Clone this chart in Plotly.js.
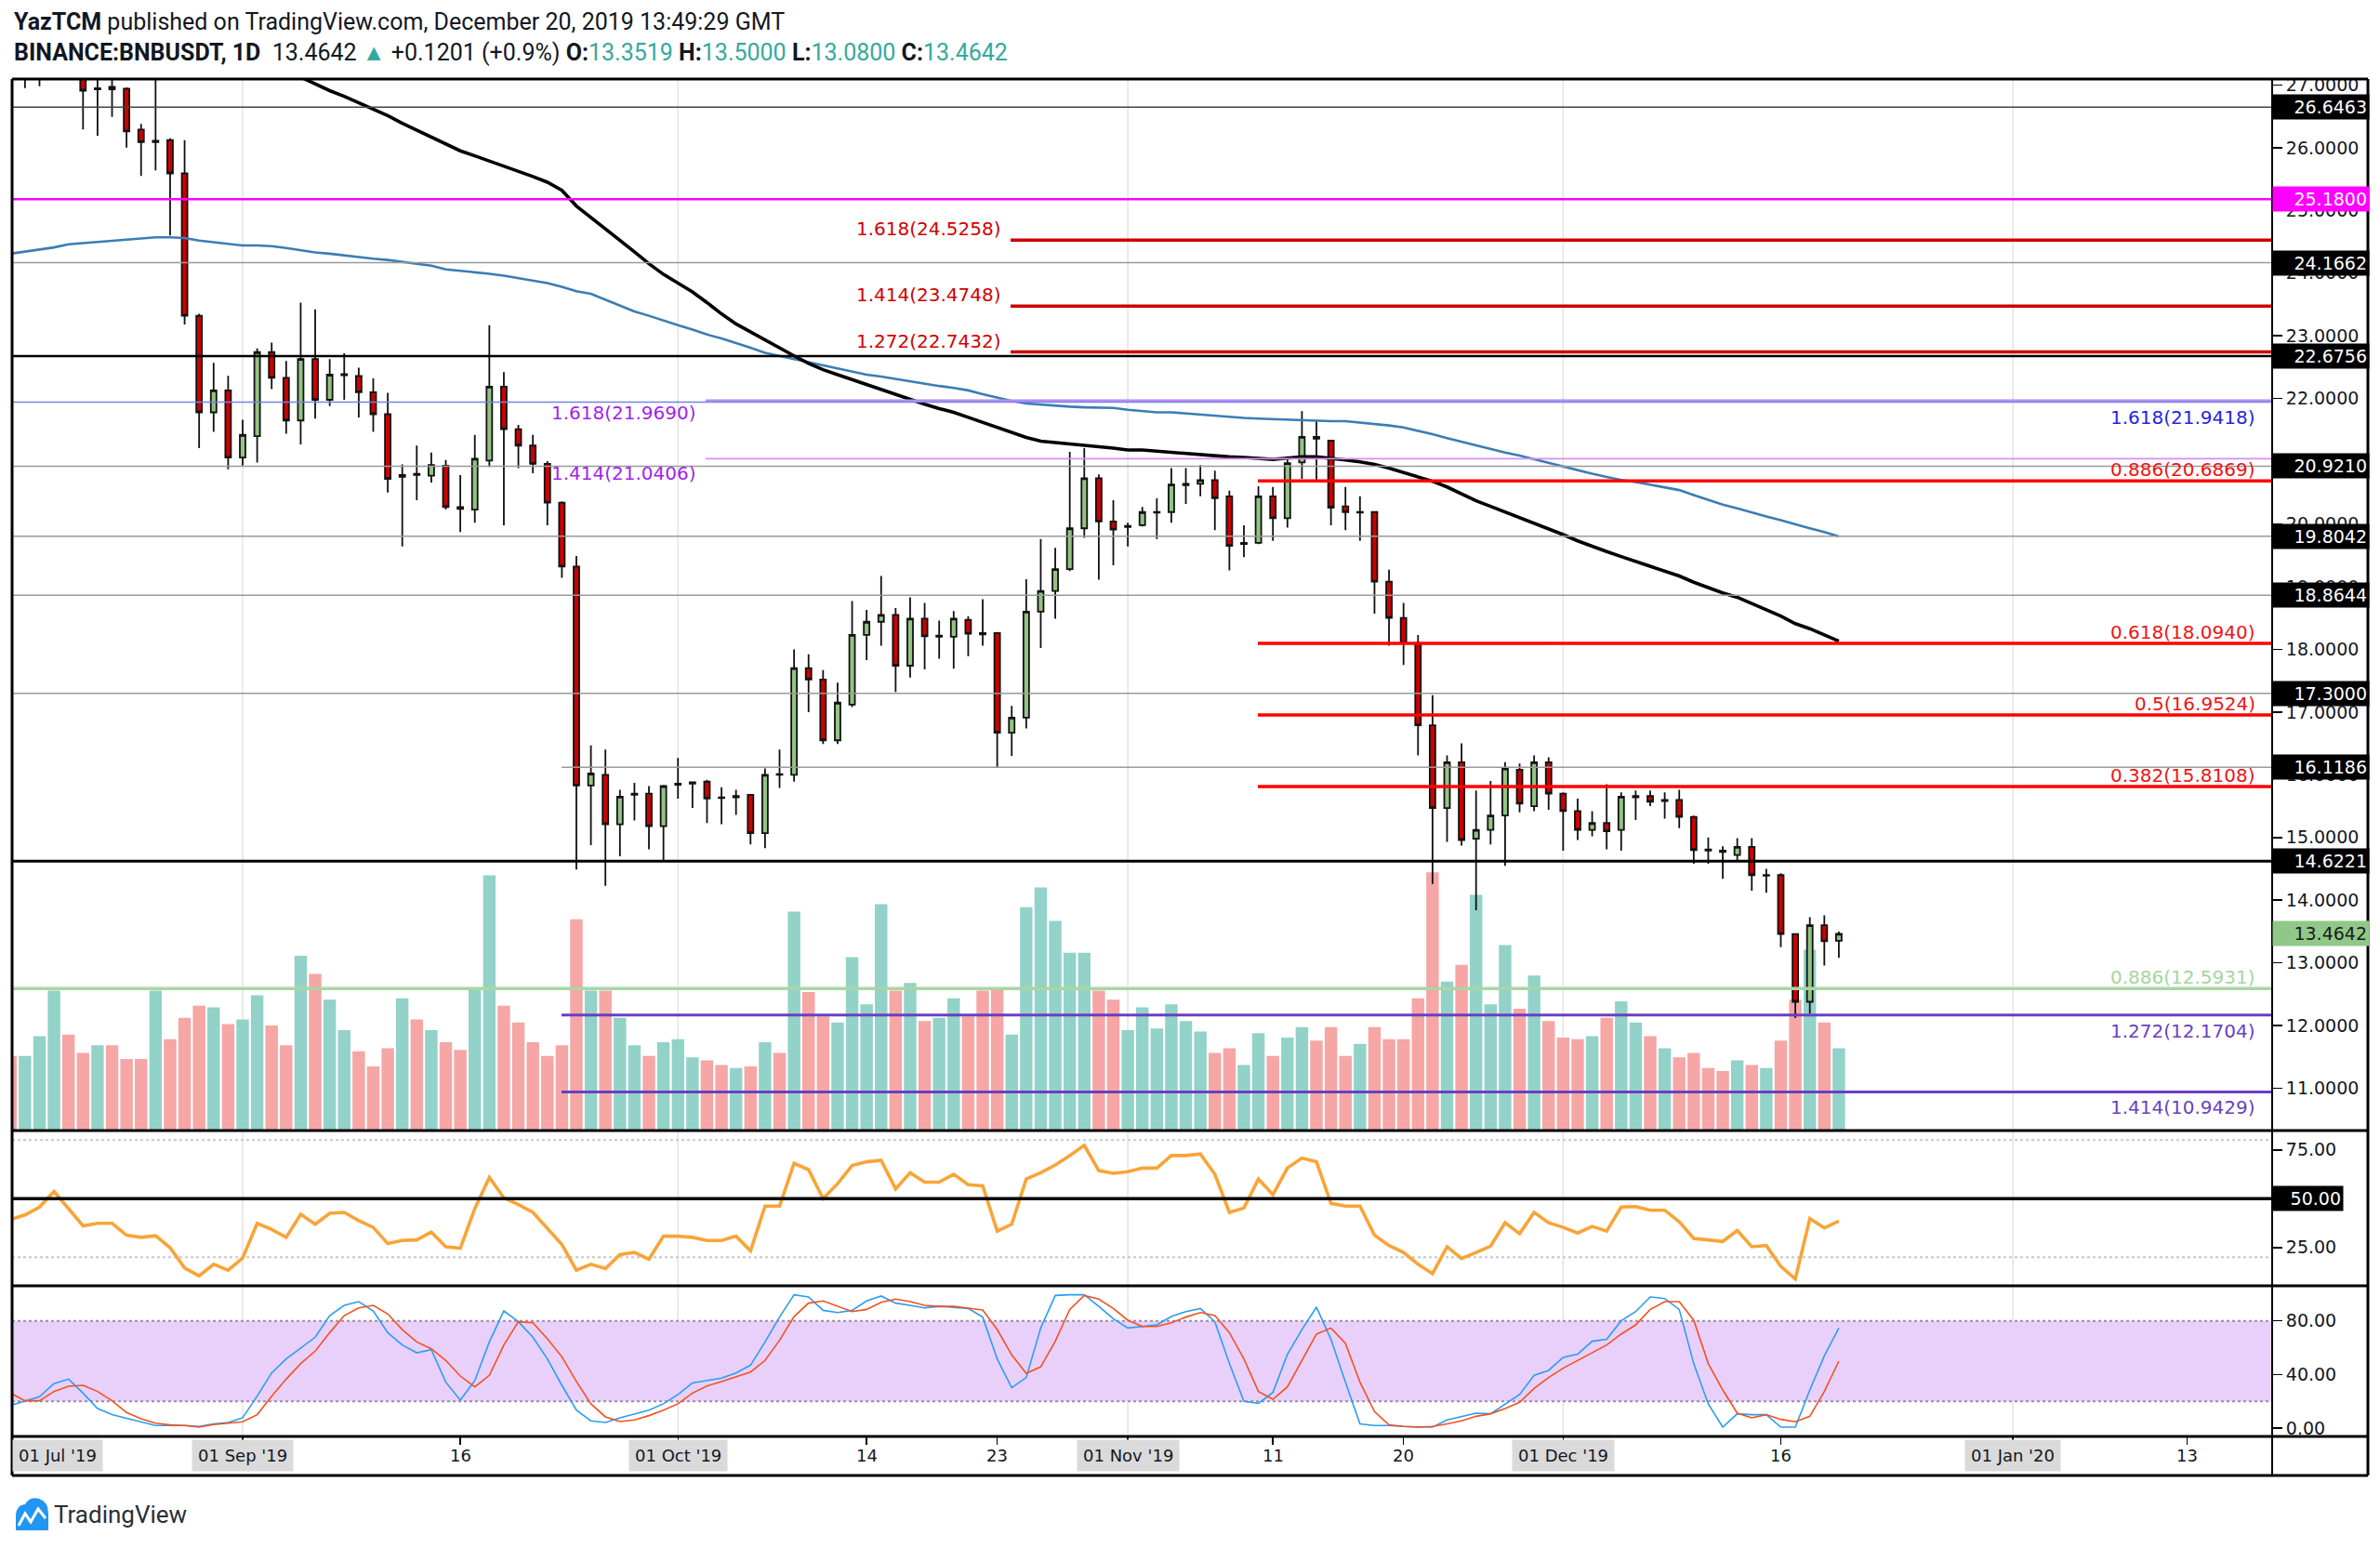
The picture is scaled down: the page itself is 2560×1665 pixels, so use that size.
<!DOCTYPE html>
<html><head><meta charset="utf-8">
<script src="https://cdn.plot.ly/plotly-3.0.1.min.js"></script>
<style>html,body{margin:0;padding:0;background:#fff;}#chart{width:2560px;height:1665px;}</style>
</head><body><div id="chart"></div>
<script>
// ---------------- DATA ----------------
const dates = [
'2019-08-16','2019-08-17','2019-08-18','2019-08-19','2019-08-20','2019-08-21','2019-08-22','2019-08-23','2019-08-24','2019-08-25','2019-08-26','2019-08-27','2019-08-28','2019-08-29','2019-08-30','2019-08-31',
'2019-09-01','2019-09-02','2019-09-03','2019-09-04','2019-09-05','2019-09-06','2019-09-07','2019-09-08','2019-09-09','2019-09-10','2019-09-11','2019-09-12','2019-09-13','2019-09-14','2019-09-15','2019-09-16','2019-09-17','2019-09-18','2019-09-19','2019-09-20','2019-09-21','2019-09-22','2019-09-23','2019-09-24','2019-09-25','2019-09-26','2019-09-27','2019-09-28','2019-09-29','2019-09-30',
'2019-10-01','2019-10-02','2019-10-03','2019-10-04','2019-10-05','2019-10-06','2019-10-07','2019-10-08','2019-10-09','2019-10-10','2019-10-11','2019-10-12','2019-10-13','2019-10-14','2019-10-15','2019-10-16','2019-10-17','2019-10-18','2019-10-19','2019-10-20','2019-10-21','2019-10-22','2019-10-23','2019-10-24','2019-10-25','2019-10-26','2019-10-27','2019-10-28','2019-10-29','2019-10-30','2019-10-31',
'2019-11-01','2019-11-02','2019-11-03','2019-11-04','2019-11-05','2019-11-06','2019-11-07','2019-11-08','2019-11-09','2019-11-10','2019-11-11','2019-11-12','2019-11-13','2019-11-14','2019-11-15','2019-11-16','2019-11-17','2019-11-18','2019-11-19','2019-11-20','2019-11-21','2019-11-22','2019-11-23','2019-11-24','2019-11-25','2019-11-26','2019-11-27','2019-11-28','2019-11-29','2019-11-30',
'2019-12-01','2019-12-02','2019-12-03','2019-12-04','2019-12-05','2019-12-06','2019-12-07','2019-12-08','2019-12-09','2019-12-10','2019-12-11','2019-12-12','2019-12-13','2019-12-14','2019-12-15','2019-12-16','2019-12-17','2019-12-18','2019-12-19','2019-12-20'];

const open = [
27.6,27.5,27.7,28.8,30.2,29.1,26.93,26.97,26.94,26.29,26.09,26.12,25.59,23.32,21.78,22.13,
21.06,21.40,22.74,22.33,21.65,22.63,21.98,22.37,22.36,22.10,21.75,20.75,20.80,20.77,20.93,20.27,20.23,21.01,22.19,21.51,21.25,20.96,20.34,19.32,15.83,16.00,15.21,15.68,15.70,15.18,
15.84,15.86,15.89,15.64,15.64,15.68,15.07,16.01,16.00,17.70,17.52,16.55,17.12,18.23,18.44,18.55,17.74,18.49,18.20,18.20,18.47,18.26,18.26,16.67,16.91,18.60,18.93,19.28,19.93,20.73,20.04,
19.95,19.98,20.18,20.19,20.62,20.64,20.70,20.44,19.68,19.70,20.44,20.09,20.98,21.39,21.33,20.28,20.18,20.19,19.08,18.50,18.10,16.79,15.47,16.20,14.98,15.12,15.35,16.08,15.50,16.20,
15.70,15.42,15.12,15.23,15.12,15.64,15.66,15.58,15.60,15.33,14.81,14.79,14.72,14.85,14.39,14.40,13.46,12.38,13.60,13.3519];
const high = [
28.3,28.0,29.0,30.5,30.6,29.3,27.3,27.2,26.96,26.38,27.3,26.15,26.12,23.35,22.57,22.36,
21.66,22.80,22.89,22.60,23.53,23.42,22.63,22.72,22.49,22.32,22.09,20.95,21.25,21.14,21.02,20.78,21.42,23.17,22.42,21.58,21.42,21.00,20.36,19.49,16.47,16.40,15.76,15.87,15.82,15.84,
16.27,15.89,15.92,15.80,15.76,15.69,16.10,16.40,18.00,17.92,17.67,17.47,18.77,18.63,19.17,18.66,18.83,18.74,18.46,18.61,18.53,18.80,18.27,17.10,19.12,19.76,19.62,21.15,21.21,20.79,20.38,
20.02,20.27,20.41,20.89,20.89,20.94,20.85,20.53,19.98,20.60,20.59,21.08,21.80,21.65,21.33,20.59,20.44,20.20,19.27,18.74,18.23,17.27,16.31,16.50,15.75,15.90,16.20,16.18,16.31,16.28,
15.72,15.62,15.42,15.85,15.72,15.75,15.75,15.72,15.76,15.35,15.00,14.86,14.99,14.99,14.50,14.43,13.47,13.73,13.76,13.50];
const low = [
27.3,26.95,26.98,28.6,28.5,26.29,26.19,26.49,26.00,25.55,25.64,24.60,23.18,21.21,21.47,20.87,
20.93,20.98,22.15,21.44,21.27,21.68,21.88,21.98,21.70,21.47,20.50,19.64,20.38,20.66,20.23,19.87,20.02,20.91,19.98,20.89,20.81,19.98,19.14,14.49,14.88,14.23,14.70,15.27,14.81,14.61,
15.62,15.47,15.23,15.21,15.36,14.89,14.83,15.79,15.89,17.00,16.49,16.49,17.08,17.83,18.06,17.32,17.55,17.68,17.85,17.69,17.89,18.06,16.12,16.30,16.74,18.02,18.49,19.25,19.78,19.11,19.34,
19.64,19.96,19.76,20.02,20.32,20.44,19.90,19.26,19.47,19.68,19.73,19.94,20.72,20.70,19.98,19.90,19.73,18.57,18.06,17.75,16.31,14.26,14.93,14.87,13.84,14.89,14.55,15.40,15.42,15.44,
14.79,14.96,15.02,14.81,14.79,15.28,15.50,15.30,15.15,14.58,14.58,14.34,14.64,14.15,14.12,13.25,12.12,12.19,12.96,13.08];
const close = [
27.5,27.7,28.8,30.2,29.1,26.91,26.95,26.93,26.26,26.09,26.11,25.59,23.32,21.78,22.13,21.06,
21.42,22.74,22.33,21.65,22.63,21.98,22.38,22.39,22.10,21.75,20.72,20.78,20.78,20.94,20.27,20.24,21.04,22.19,21.51,21.25,20.96,20.34,19.32,15.83,16.02,15.21,15.65,15.70,15.18,15.82,
15.86,15.88,15.62,15.63,15.66,15.07,16.00,16.00,17.70,17.52,16.55,17.15,18.23,18.44,18.55,17.74,18.49,18.21,18.22,18.49,18.25,18.24,16.67,16.91,18.60,18.93,19.28,19.93,20.73,20.04,19.91,
19.97,20.19,20.19,20.63,20.64,20.70,20.41,19.65,19.70,20.44,20.09,20.97,21.39,21.36,20.26,20.19,20.19,19.08,18.50,18.10,16.79,15.47,16.20,14.96,15.12,15.35,16.10,15.54,16.20,15.70,
15.42,15.12,15.23,15.10,15.65,15.66,15.57,15.60,15.33,14.80,14.79,14.77,14.85,14.40,14.40,13.46,12.38,13.60,13.3441,13.4642];
const volumeK = [
490,490,620,920,630,510,560,560,470,470,920,600,740,820,810,700,
730,890,690,560,1150,1030,860,660,520,420,540,870,730,660,580,530,940,1680,820,710,580,490,560,1390,920,920,740,560,490,580,
600,480,460,430,410,420,580,510,1440,910,750,710,1140,830,1490,920,970,720,740,870,750,920,940,630,1470,1600,1380,1170,1170,920,860,
660,810,670,830,720,650,510,540,430,640,490,610,680,590,680,490,570,680,600,600,870,1700,980,1090,1550,830,1220,800,1020,720,
610,600,620,740,850,710,620,540,480,510,410,390,460,430,410,590,860,1190,710,540];
const maBlue = [
24.31,24.34,24.37,24.41,24.46,24.48,24.49,24.51,24.53,24.55,24.57,24.57,24.56,24.52,24.49,24.46,24.44,24.44,24.43,24.40,
24.36,24.33,24.31,24.28,24.26,24.23,24.21,24.18,24.16,24.12,24.06,24.04,24.01,23.99,23.96,23.92,23.88,23.84,23.78,23.71,
23.67,23.58,23.49,23.39,23.32,23.24,23.17,23.10,23.02,22.96,22.89,22.81,22.73,22.68,22.63,22.58,22.52,22.47,22.42,22.38,
22.35,22.31,22.28,22.24,22.20,22.17,22.13,22.07,22.01,21.96,21.92,21.90,21.88,21.87,21.86,21.85,21.85,21.82,21.80,21.78,
21.78,21.76,21.74,21.73,21.71,21.69,21.68,21.67,21.67,21.66,21.65,21.64,21.64,21.62,21.60,21.57,21.54,21.49,21.43,21.37,
21.31,21.25,21.20,21.14,21.09,21.03,20.97,20.91,20.86,20.80,20.75,20.70,20.67,20.63,20.59,20.54,20.46,20.38,20.31,20.25,
20.18,20.12,20.06,19.99,19.93,19.87,19.80];
const maBlack = [
null,null,null,null,null,null,null,null,null,null,null,null,null,null,null,null,null,
27.45,27.34,27.23,27.12,27.01,26.91,26.82,26.72,26.62,26.51,26.39,26.28,26.17,
26.06,25.95,25.87,25.79,25.71,25.62,25.54,25.45,25.32,25.07,24.89,24.70,24.52,24.34,24.15,23.98,23.84,23.70,23.53,23.35,
23.19,23.06,22.93,22.80,22.68,22.56,22.46,22.38,22.30,22.22,22.14,22.06,21.98,21.91,21.84,21.78,21.70,21.62,21.53,21.45,
21.38,21.32,21.30,21.28,21.26,21.24,21.21,21.18,21.18,21.16,21.14,21.13,21.11,21.09,21.07,21.06,21.04,21.03,21.05,21.07,
21.07,21.05,21.02,20.99,20.95,20.89,20.82,20.75,20.68,20.59,20.48,20.37,20.28,20.19,20.11,20.02,19.92,19.83,19.73,19.64,
19.56,19.48,19.40,19.32,19.25,19.17,19.07,18.98,18.90,18.83,18.73,18.64,18.53,18.41,18.33,18.23,18.13];
const rsi = [
39.3,41.7,45.7,53.7,44.9,36.1,37.4,37.4,31.3,30.2,31.0,24.9,14.5,10.5,16.4,13.4,
19.6,37.4,34.2,30.2,42.0,36.9,42.5,43.0,38.8,35.3,27.0,28.6,28.9,32.9,25.4,24.6,44.9,60.9,50.5,47.0,43.0,35.0,26.5,13.4,16.4,14.2,21.4,22.5,19.0,30.8,
30.8,30.2,28.6,28.6,30.8,23.3,46.2,46.2,68.1,64.9,50.0,57.7,67.0,68.9,69.7,55.0,63.3,58.5,58.5,62.5,57.2,56.6,33.4,36.9,60.1,63.3,67.3,72.1,77.4,64.4,63.0,
63.8,65.7,65.7,72.1,72.1,72.9,62.5,43.0,45.2,60.1,52.1,65.7,70.8,68.9,47.6,46.2,46.2,31.3,26.0,22.5,16.4,11.6,25.4,19.3,22.5,25.7,37.7,32.1,43.0,37.7,
35.3,32.4,35.8,33.4,45.7,46.0,44.1,44.1,38.2,29.7,28.9,28.1,33.7,25.4,26.0,15.3,8.9,39.8,35.0,38.5];
const stochK = [
17,20,23.5,33.2,36.6,26.2,14.7,10.1,7.3,4.3,2,2,2,1.3,3.2,4.3,
7.8,23.9,41.2,51.6,59.7,67.8,83.9,91.5,94.3,87.4,71.2,62,56.2,58.5,34.3,20.9,35.5,64.3,87.4,79.3,67.8,51.6,32,13.5,5.5,4.3,7.8,10.5,13.5,18.2,
25.1,33.8,35.5,37.3,41.2,47,64.3,82.8,99.4,97.8,87.8,86.2,87.8,94.8,98.5,93.2,91.5,89.7,90.8,90.2,89.2,82.8,51.6,30.2,37.8,74.7,98.9,99.4,99.4,90.8,81.6,
74.7,75.8,77,83.2,86.9,89.2,79.3,48.2,20,18.6,26.7,55.1,73.5,90.2,66.2,34.3,3.2,2,2,1.3,0.8,0.8,6.2,8.9,11.2,10.8,18.2,25.1,39.4,43.1,
52.8,55.1,64.8,66.2,80,86.9,97.8,96.6,88.5,48.2,18.2,0.8,10.8,10.1,10.1,0.8,0.8,28.5,53.9,74.7];
const stochD = [
26.2,20.5,20.5,27.4,31.3,32,27.4,20.5,11.7,7.1,3.8,2.5,2,0.8,2.7,3.6,
4.8,10.1,23.9,36.6,48.2,57.4,71.2,83.9,89.7,91.5,85.1,73.5,64.3,59.2,50.5,38.9,30.8,39.4,62,79.3,78.6,66.6,53.2,34.8,18.2,8.5,5,6.2,9.4,13.5,
18.2,26.2,31.5,34.8,38.2,41.9,50.5,65.5,83.2,93.2,94.8,90.8,86.9,88.5,93.8,96.2,94.3,91.5,90.8,90.8,89.7,88.1,73.5,54.6,40.8,45.8,64.8,88.5,98.9,96.2,89.2,
80.5,75.8,75.8,78.6,82.8,86.2,83.9,71.2,51.6,27.4,21.6,30.8,50.5,70.1,74.7,63.2,34.3,12.4,2.5,1.3,0.8,1.3,3.2,5.5,8.9,10.8,14.7,19.3,29.7,37.8,
44.7,50.5,56.2,62,70.1,77,88.5,94.3,94.3,80.5,48.2,28.5,11.2,7.8,10.1,6.6,4.8,8.9,27.4,50];

// horizontal levels and fib levels
const greyLevels = [24.1662, 20.921, 19.8042, 18.8644, 17.3];
const thinBlackLevel = 26.6463;
const magentaLevel = 25.18;
const blackLevels = [22.6756, 14.6221];
const partialGreyLevel = 16.1186;
const fibUpRatios = ['1.618','1.414','1.272'];
const fibUpValues = [24.5258, 23.4748, 22.7432];
const fibRetRatios = ['0.886','0.618','0.5','0.382'];
const fibRetValues = [20.6869, 18.094, 16.9524, 15.8108];
const fibPurpleRatios = ['1.618','1.414'];
const fibPurpleValues = [21.969, 21.0406];
const fibBlueRatio = '1.618', fibBlueValue = 21.9418;
const fibGreenRatio = '0.886', fibGreenValue = 12.5931;
const fibVioletRatios = ['1.272','1.414'];
const fibVioletValues = [12.1704, 10.9429];
const priceTicks = [11,12,13,14,15,16,17,18,19,20,21,22,23,24,25,26,27];
const rsiTicks = [25, 75];
const stochTicks = [0, 40, 80];
const monthTicks = ['2019-09-01','2019-10-01','2019-11-01','2019-12-01','2020-01-01'];
const monthLabels = ["01 Sep '19","01 Oct '19","01 Nov '19","01 Dec '19","01 Jan '20"];
const dayTicks = ['2019-09-16','2019-10-14','2019-10-23','2019-11-11','2019-11-20','2019-12-16','2020-01-13'];
const dayLabels = ['16','14','23','11','20','16','13'];

// ---------------- GEOMETRY HELPERS ----------------
const L = 13, R = 2444, T = 85, B = 1545;
const px = v => (v - L) / (R - L);
const py = v => (B - v) / (B - T);
const FONT = 'DejaVu Sans';
const HEAD = "Roboto, 'Liberation Sans', sans-serif";

const teal = '#35a99d';
const n = dates.length;
const volColors = close.map((c, i) => c >= open[i] ? '#92d2c9' : '#f5a6a5');

const traces = [
  {type:'bar', x:dates, y:volumeK, xaxis:'x', yaxis:'y', marker:{color:volColors, line:{width:0}}, hoverinfo:'skip'},
  {type:'candlestick', x:dates, open:open, high:high, low:low, close:close, xaxis:'x', yaxis:'y2',
   increasing:{line:{color:'#111', width:1.8}, fillcolor:'#93c383'},
   decreasing:{line:{color:'#111', width:1.8}, fillcolor:'#cc0000'}, whiskerwidth:0, hoverinfo:'skip'},
  {type:'scatter', mode:'lines', x:dates, y:maBlue, xaxis:'x', yaxis:'y2', line:{color:'#3a7db4', width:2.6}, hoverinfo:'skip'},
  {type:'scatter', mode:'lines', x:dates, y:maBlack, xaxis:'x', yaxis:'y2', line:{color:'#000', width:3.6}, hoverinfo:'skip', connectgaps:false},
  {type:'scatter', mode:'lines', x:dates, y:rsi, xaxis:'x', yaxis:'y3', line:{color:'#f9a437', width:3.6}, hoverinfo:'skip'},
  {type:'scatter', mode:'lines', x:dates, y:stochK, xaxis:'x', yaxis:'y4', line:{color:'#2a9df4', width:1.6}, hoverinfo:'skip'},
  {type:'scatter', mode:'lines', x:dates, y:stochD, xaxis:'x', yaxis:'y4', line:{color:'#f4511e', width:1.6}, hoverinfo:'skip'}
];

const shapes = [];
const annotations = [];
function hline(yref, y, color, width, x0, x1, dash, layer){
  shapes.push({type:'line', xref:'paper', yref:yref, x0:x0, x1:x1, y0:y, y1:y, line:{color:color, width:width, dash:dash||'solid'}, layer:layer||'above'});
}
// month vertical grid
monthTicks.forEach(d => shapes.push({type:'line', xref:'x', yref:'paper', x0:d, x1:d, y0:0, y1:1, line:{color:'#e4e4e4', width:1.5}, layer:'below'}));
// stoch band
shapes.push({type:'rect', xref:'paper', yref:'y4', x0:0, x1:1, y0:20, y1:80, fillcolor:'#e8d0fb', line:{width:0}, layer:'below'});
hline('y4', 80, '#9c8ca8', 2, 0, 1, 'dot', 'below');
hline('y4', 20, '#9c8ca8', 2, 0, 1, 'dot', 'below');
// rsi bands
hline('y3', 80, '#c8c8c8', 2, 0, 1, 'dot', 'below');
hline('y3', 20, '#c8c8c8', 2, 0, 1, 'dot', 'below');
hline('y3', 50, '#000', 3.5, 0, 1);

// price levels
hline('y2', thinBlackLevel, '#444', 1.5, 0, 1);
hline('y2', magentaLevel, '#ff00ff', 2.5, 0, 1);
greyLevels.forEach(v => hline('y2', v, '#9a9a9a', 1.5, 0, 1));
hline('y2', partialGreyLevel, '#9a9a9a', 1.5, px(604), 1);
hline('y2', blackLevels[0], '#000', 2.5, 0, 1);
hline('y2', blackLevels[1], '#000', 3.2, 0, 1);
hline('y2', fibBlueValue, '#7484e0', 1.5, 0, 1);
hline('y2', fibPurpleValues[0], '#b68cf5', 2.6, px(759), 1);
hline('y2', fibPurpleValues[1], '#d590ef', 1.6, px(759), 1);
fibUpValues.forEach(v => hline('y2', v, '#cc0000', 3.5, px(1087), 1));
fibRetValues.forEach(v => hline('y2', v, '#ff0000', 3.5, px(1353), 1));
hline('y2', fibGreenValue, '#aad6a3', 3.5, 0, 1);
fibVioletValues.forEach(v => hline('y2', v, '#6a3fc0', 3, px(604), 1));

// fib labels
function flabel(xpx, v, text, color, yshift){
  annotations.push({xref:'paper', x:px(xpx), xanchor:'right', yref:'y2', y:v, yanchor:'middle', yshift:yshift,
    text:text, showarrow:false, font:{family:FONT, size:20, color:color}});
}
fibUpValues.forEach((v,i) => flabel(1079, v, fibUpRatios[i] + '(' + v.toFixed(4) + ')', '#d10000', 12));
fibRetValues.forEach((v,i) => flabel(2428, v, fibRetRatios[i] + '(' + v.toFixed(4) + ')', '#ee1414', 12));
fibPurpleValues.forEach((v,i) => flabel(751, v, fibPurpleRatios[i] + '(' + v.toFixed(4) + ')', '#a21ff0', i===0 ? -13 : -16));
flabel(2428, fibBlueValue, fibBlueRatio + '(' + fibBlueValue.toFixed(4) + ')', '#2424e4', -16);
flabel(2428, fibGreenValue, fibGreenRatio + '(' + fibGreenValue.toFixed(4) + ')', '#a6d5a0', 12);
fibVioletValues.forEach((v,i) => flabel(2428, v, fibVioletRatios[i] + '(' + v.toFixed(4) + ')', '#6a3fc0', -17));

// axis boxes
function boxAnn(yref, v, text, bg, fg, w){
  annotations.push({xref:'paper', x:1, xanchor:'left', yref:yref, y:v, yanchor:'middle', text:text, showarrow:false,
    bgcolor:bg, font:{family:FONT, size:19, color:fg}, width:w, height:22, align:'right', borderpad:2});
}
[thinBlackLevel, ...greyLevels, partialGreyLevel, ...blackLevels].forEach(v => boxAnn('y2', v, v.toFixed(4), '#000', '#fff', 99));
boxAnn('y2', magentaLevel, magentaLevel.toFixed(4), '#ff00ff', '#fff', 99);
boxAnn('y2', close[n-1], close[n-1].toFixed(4), '#90c987', '#1b1b1b', 99);
boxAnn('y3', 50, '50.00', '#000', '#fff', 71);

// cover for top of clipped label
shapes.push({type:'rect', xref:'paper', yref:'paper', x0:px(2446), x1:px(2546), y0:py(86), y1:py(62), fillcolor:'#fff', line:{width:0}, layer:'above'});

// frame
const XR = px(2547), YB = py(1587);
[[85,3],[1216,3],[1383,3],[1545,3],[1587,3]].forEach(([y,w]) => shapes.push({type:'line', xref:'paper', yref:'paper', x0:0, x1:XR, y0:py(y), y1:py(y), line:{color:'#000', width:w}, layer:'above'}));
[[13,3],[2444,2],[2547,3]].forEach(([x,w]) => shapes.push({type:'line', xref:'paper', yref:'paper', x0:px(x), x1:px(x), y0:1, y1:YB, line:{color:'#000', width:w}, layer:'above'}));

// date labels
const ylab = py(1565);
annotations.push({xref:'paper', x:0, xanchor:'left', yref:'paper', y:ylab, yanchor:'middle', text:"01 Jul '19", showarrow:false,
  bgcolor:'#dadada', borderpad:6, font:{family:FONT, size:18, color:'#131722'}});
monthTicks.forEach((d,i) => annotations.push({xref:'x', x:d, xanchor:'center', yref:'paper', y:ylab, yanchor:'middle', text:monthLabels[i], showarrow:false,
  bgcolor:'#dadada', borderpad:6, font:{family:FONT, size:18, color:'#131722'}}));
dayTicks.forEach((d,i) => annotations.push({xref:'x', x:d, xanchor:'center', yref:'paper', y:ylab, yanchor:'middle', text:dayLabels[i], showarrow:false,
  font:{family:FONT, size:18, color:'#131722'}}));

// header
const chg = close[n-1] - close[n-2];
const pct = chg / close[n-2] * 100;
const tv = s => "<span style='color:" + teal + "'>" + s + "</span>";
annotations.push({xref:'paper', x:0, xanchor:'left', yref:'paper', y:py(23), yanchor:'middle', showarrow:false,
  text:"<b>YazTCM</b> published on TradingView.com, December 20, 2019 13:49:29 GMT", font:{family:HEAD, size:25, color:'#131722'}});
annotations.push({xref:'paper', x:0, xanchor:'left', yref:'paper', y:py(57), yanchor:'middle', showarrow:false,
  text:"<b>BINANCE:BNBUSDT, 1D</b>  " + close[n-1].toFixed(4) + " " + tv('▲') + " +" + chg.toFixed(4) + " (+" + pct.toFixed(1) + "%) <b>O:</b>" + tv(open[n-1].toFixed(4)) +
       " <b>H:</b>" + tv(high[n-1].toFixed(4)) + " <b>L:</b>" + tv(low[n-1].toFixed(4)) + " <b>C:</b>" + tv(close[n-1].toFixed(4)),
  font:{family:HEAD, size:25, color:'#131722'}});

// TradingView logo
function ppath(pts){ return pts.map(p => (typeof p === 'string') ? p : (px(p[0]).toFixed(5) + ',' + py(p[1]).toFixed(5))).join(' '); }
shapes.push({type:'path', xref:'paper', yref:'paper', layer:'above', fillcolor:'#2196f3', line:{width:0},
  path: ppath(['M',[17,1646],'L',[17,1630],'Q',[17,1619],[27,1618],'Q',[32,1609],[42,1612],'Q',[52,1615],[52,1628],'L',[52,1646],'Z'])});
shapes.push({type:'path', xref:'paper', yref:'paper', layer:'above', line:{color:'#fff', width:3},
  path: ppath(['M',[20,1641],'L',[27,1628],'L',[33,1637],'L',[41,1623],'L',[49,1633]])});
annotations.push({xref:'paper', x:px(56), xanchor:'left', yref:'paper', y:py(1629), yanchor:'middle', showarrow:false,
  text:'TradingView', font:{family:HEAD, size:26, color:'#2a2e39'}});

const axFont = {family:FONT, size:19, color:'#131722'};
const layout = {
  width:2560, height:1665, margin:{l:L, r:2560-R, t:T, b:1665-B, pad:0},
  paper_bgcolor:'#fff', plot_bgcolor:'#fff', showlegend:false, boxgap:0.45, bargap:0.14,
  font:{family:FONT, size:19, color:'#131722'},
  xaxis:{type:'date', range:['2019-08-16 02:40','2020-01-18 20:40'], domain:[0,1], anchor:'y4', rangeslider:{visible:false},
    showgrid:false, zeroline:false, showline:false, ticks:'outside', ticklen:8, tickwidth:1.5, tickcolor:'#000',
    tickvals:[...monthTicks, ...dayTicks], showticklabels:false, fixedrange:true},
  yaxis:{domain:[py(1215.7), 1], range:[0, 6925], visible:false, fixedrange:true},
  yaxis2:{overlaying:'y', side:'right', anchor:'x', range:[10.331, 27.095], tickvals:priceTicks, ticktext:priceTicks.map(v => v.toFixed(4)),
    ticks:'outside', ticklen:10, tickwidth:1.5, tickcolor:'#000', showgrid:false, zeroline:false, showline:false, tickfont:axFont, fixedrange:true},
  yaxis3:{domain:[py(1382.7), py(1216.7)], anchor:'x', side:'right', range:[5.52, 84.57], tickvals:rsiTicks, ticktext:rsiTicks.map(v => v.toFixed(2)),
    ticks:'outside', ticklen:10, tickwidth:1.5, tickcolor:'#000', showgrid:false, zeroline:false, showline:false, tickfont:axFont, fixedrange:true},
  yaxis4:{domain:[0, py(1382.7)], anchor:'x', side:'right', range:[-6.1, 106.3], tickvals:stochTicks, ticktext:stochTicks.map(v => v.toFixed(2)),
    ticks:'outside', ticklen:10, tickwidth:1.5, tickcolor:'#000', showgrid:false, zeroline:false, showline:false, tickfont:axFont, fixedrange:true},
  shapes:shapes, annotations:annotations
};
Plotly.newPlot('chart', traces, layout, {displayModeBar:false, staticPlot:true});
</script></body></html>
